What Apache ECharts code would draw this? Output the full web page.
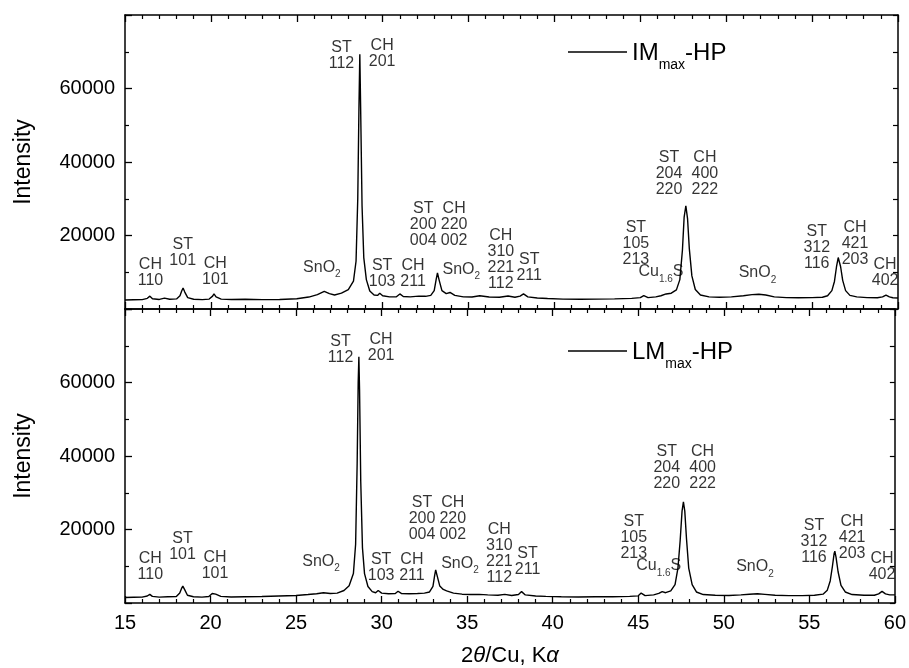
<!DOCTYPE html>
<html>
<head>
<meta charset="utf-8">
<script src="https://cdn.jsdelivr.net/npm/echarts@6/dist/echarts.min.js"></script>
<style>
html,body{margin:0;padding:0;background:#fff;}
#chart{width:909px;height:668px;}
</style>
</head>
<body>
<div id="chart"></div>
<script>
// ---------- data ----------
const seriesNames = ['IMmax-HP', 'LMmax-HP'];

// [2theta, intensity] (IMmax-HP)
const patternIM = [
  [15.0,2450],[15.5,2500],[16.0,2550],[16.3,2900],[16.45,3500],[16.6,2800],[17.0,2600],[17.3,2950],[17.6,2650],
  [18.0,2750],[18.2,3600],[18.3,4900],[18.38,5700],[18.48,4600],[18.65,3100],[19.0,2650],[19.5,2550],[19.9,2700],
  [20.1,3500],[20.18,4100],[20.3,3300],[20.6,2700],[21.2,2600],[22.0,2650],[23.0,2550],[24.0,2600],[25.0,2800],
  [25.7,3250],[26.2,3900],[26.6,4800],[26.9,4200],[27.2,3800],[27.6,4300],[28.0,5300],[28.3,7600],[28.45,13000],
  [28.55,30000],[28.62,55000],[28.67,69300],[28.72,54000],[28.8,28000],[28.9,14000],[29.05,8000],[29.25,4900],
  [29.5,3800],[29.7,3700],[29.83,4300],[30.0,3600],[30.4,3300],[30.8,3350],[31.0,4100],[31.2,3400],[31.6,3300],
  [32.1,3500],[32.5,3450],[32.8,3700],[33.0,5000],[33.12,8200],[33.19,9800],[33.28,8000],[33.45,5000],[33.7,4200],
  [33.92,4500],[34.2,3700],[34.7,3300],[35.2,3250],[35.65,3600],[36.2,3250],[36.8,3200],[37.3,3550],[37.7,3200],
  [38.0,3500],[38.2,4100],[38.45,3300],[39.0,3000],[39.6,2850],[40.5,2700],[41.5,2650],[42.5,2700],[43.5,2750],
  [44.5,2900],[45.0,3100],[45.2,3650],[45.45,3100],[45.9,3300],[46.2,3600],[46.5,4100],[46.8,4300],[47.1,5200],
  [47.3,8000],[47.45,16000],[47.55,25000],[47.65,28100],[47.75,24500],[47.85,16500],[48.0,9000],[48.2,5300],
  [48.5,3800],[49.0,3300],[49.6,3200],[50.3,3300],[51.0,3600],[51.5,3900],[51.9,4000],[52.3,3800],[52.8,3300],
  [53.5,3100],[54.2,3050],[55.0,3100],[55.6,3200],[55.9,3600],[56.15,5000],[56.3,7500],[56.42,11500],[56.52,14000],
  [56.58,13600],[56.66,11500],[56.78,7800],[56.95,5000],[57.2,3700],[57.6,3300],[58.2,3100],[58.8,3050],[59.1,3300],
  [59.3,3800],[59.5,3300],[59.7,3050],[60.0,3000]
];

// [2theta, intensity] (LMmax-HP)
const patternLM = [
  [15.0,1500],[15.5,1550],[16.0,1600],[16.3,1900],[16.45,2350],[16.6,1800],[17.0,1600],[17.5,1700],[18.0,1750],
  [18.2,2700],[18.3,3900],[18.38,4600],[18.48,3700],[18.65,2100],[19.0,1700],[19.5,1600],[19.9,1750],[20.1,2600],
  [20.18,3100],[20.3,2400],[20.6,1800],[21.2,1650],[22.0,1700],[23.0,1750],[24.0,1900],[25.0,2050],[25.7,2300],
  [26.2,2500],[26.6,2800],[27.0,2600],[27.4,2700],[27.8,3400],[28.1,4700],[28.35,8000],[28.48,16000],[28.57,38000],
  [28.63,60000],[28.67,67000],[28.71,58000],[28.78,33000],[28.88,15000],[29.0,8000],[29.2,4500],[29.45,3100],
  [29.65,2800],[29.8,3400],[30.0,2700],[30.4,2500],[30.8,2600],[30.96,3200],[31.15,2600],[31.6,2500],[32.1,2600],
  [32.5,2700],[32.8,3000],[33.0,4500],[33.1,7500],[33.16,9000],[33.24,7500],[33.4,4600],[33.6,3700],[33.8,3300],
  [34.2,2700],[34.7,2400],[35.2,2300],[35.7,2350],[36.2,2200],[36.8,2100],[37.2,2350],[37.6,2050],[38.0,2300],
  [38.18,3100],[38.4,2200],[39.0,1900],[39.6,1800],[40.5,1700],[41.5,1650],[42.5,1700],[43.5,1700],[44.5,1800],
  [45.0,1950],[45.17,2700],[45.4,2000],[45.9,2200],[46.2,2600],[46.4,3100],[46.6,2800],[46.9,3300],[47.15,5000],
  [47.32,9500],[47.45,17000],[47.56,25000],[47.64,27500],[47.72,25000],[47.82,17500],[47.95,9500],[48.15,5000],
  [48.4,3000],[48.8,2300],[49.5,2100],[50.3,2050],[51.0,2200],[51.5,2400],[51.97,2500],[52.4,2350],[53.0,2100],
  [53.8,2000],[54.6,2000],[55.3,2100],[55.8,2400],[56.05,3500],[56.22,6000],[56.35,10000],[56.45,13500],
  [56.49,14100],[56.56,12500],[56.68,8500],[56.85,4800],[57.1,3000],[57.5,2300],[58.2,2100],[58.8,2100],
  [59.05,2500],[59.25,3150],[59.45,2500],[59.7,2200],[60.0,2200]
];

// peak annotations: [2theta, intensity, text]
const peakLabels = [
  [16.48, 9800, 'CH\n110'],
  [18.36, 15400, 'ST\n101'],
  [20.26, 10200, 'CH\n101'],
  [26.46, 10300, '{n|SnO}{s|2}'],
  [27.60, 69000, 'ST\n112'],
  [29.97, 69400, 'CH\n201'],
  [29.97, 9500, 'ST\n103'],
  [31.77, 9500, 'CH\n211'],
  [32.36, 23000, 'ST\n200\n004'],
  [34.16, 23000, 'CH\n220\n002'],
  [34.58, 9600, '{n|SnO}{s|2}'],
  [36.88, 13400, 'CH\n310\n221\n112'],
  [38.53, 11200, 'ST\n211'],
  [44.74, 17800, 'ST\n105\n213'],
  [46.20, 9000, '{n|Cu}{s|1.6}{n|S}'],
  [46.67, 36900, 'ST\n204\n220'],
  [48.76, 36900, 'CH\n400\n222'],
  [51.82, 8700, '{n|SnO}{s|2}'],
  [55.27, 16700, 'ST\n312\n116'],
  [57.50, 17800, 'CH\n421\n203'],
  [59.25, 10000, 'CH\n402']
];

const xTicks = {min: 15, max: 60, interval: 5};
const yTicks = {min: 0, max: 80000, interval: 20000};

// ---------- chart ----------
const FONT = "'Liberation Sans', Arial, Helvetica, sans-serif";
const chart = echarts.init(document.getElementById('chart'), null, {renderer: 'canvas'});

const axisLine = {show: true, onZero: false, lineStyle: {color: '#000', width: 1.5}};

function xAxisDef(grid, pos, showLabels) {
  return {
    type: 'value', gridIndex: grid, position: pos,
    min: xTicks.min, max: xTicks.max, interval: xTicks.interval,
    axisLine: axisLine,
    axisTick: {show: true, inside: true, length: 7, lineStyle: {color: '#000', width: 1.3}},
    minorTick: {show: true, splitNumber: 5, length: 4, lineStyle: {color: '#000', width: 1.2}},
    splitLine: {show: false},
    axisLabel: {show: showLabels, color: '#000', fontSize: 20, fontFamily: FONT, margin: 10},
    name: showLabels ? '{n|2}{i|θ}{n|/Cu, K}{i|α}' : '',
    nameLocation: 'middle', nameGap: 42,
    nameTextStyle: {
      color: '#000', fontSize: 22, fontFamily: FONT,
      rich: {
        n: {fontSize: 22, fontFamily: FONT, color: '#000'},
        i: {fontSize: 22, fontFamily: FONT, fontStyle: 'italic', color: '#000'}
      }
    }
  };
}
function yLeftDef(grid) {
  return {
    type: 'value', gridIndex: grid, position: 'left',
    min: yTicks.min, max: yTicks.max, interval: yTicks.interval,
    axisLine: axisLine,
    axisTick: {show: true, inside: true, length: 7, lineStyle: {color: '#000', width: 1.3}},
    minorTick: {show: true, splitNumber: 2, length: 4, lineStyle: {color: '#000', width: 1.2}},
    splitLine: {show: false},
    axisLabel: {show: true, color: '#000', fontSize: 20, fontFamily: FONT, margin: 10,
      showMinLabel: false, showMaxLabel: false, formatter: v => String(v)},
    name: 'Intensity', nameLocation: 'middle', nameGap: 90,
    nameTextStyle: {color: '#000', fontSize: 23, fontFamily: FONT}
  };
}
function yRightDef(grid) {
  return {
    type: 'value', gridIndex: grid, position: 'right',
    min: yTicks.min, max: yTicks.max, interval: yTicks.interval / 2,
    axisLine: axisLine,
    axisTick: {show: true, inside: true, length: 5, lineStyle: {color: '#000', width: 1.2}},
    splitLine: {show: false},
    axisLabel: {show: false}
  };
}

const labelRich = {
  n: {fontSize: 16, fontFamily: FONT, color: '#000', verticalAlign: 'bottom', lineHeight: 16, padding: [0, 0, 4, 0]},
  s: {fontSize: 10, fontFamily: FONT, color: '#000', verticalAlign: 'bottom', lineHeight: 10}
};

function labelSeries(xi, yi) {
  return {
    type: 'scatter', xAxisIndex: xi, yAxisIndex: yi,
    symbolSize: 0, silent: true, z: 5,
    data: peakLabels.map(p => ({value: [p[0], p[1]], name: p[2]})),
    label: {
      show: true, position: 'inside', formatter: p => p.name,
      color: '#000', fontSize: 16, lineHeight: 16, fontFamily: FONT, align: 'center',
      rich: labelRich
    }
  };
}

function legendDef(name, top, main) {
  return {
    data: [name], left: 568, top: top, padding: 0,
    icon: 'rect', itemWidth: 59, itemHeight: 1.5, itemGap: 0,
    itemStyle: {color: '#000'},
    selectedMode: false,
    formatter: () => '{a|' + main + '}{b|max}{a|-HP}',
    textStyle: {
      color: '#000', fontFamily: FONT, fontSize: 24, padding: [2, 0, 0, 0],
      rich: {
        a: {fontSize: 24, fontFamily: FONT, color: '#000', verticalAlign: 'top', lineHeight: 24},
        b: {fontSize: 14, fontFamily: FONT, color: '#000', verticalAlign: 'top', lineHeight: 14, padding: [17, 0, 0, 0]}
      }
    }
  };
}

const option = {
  animation: false,
  backgroundColor: '#fff',
  grid: [
    {left: 125, right: 11, top: 15, height: 294},
    {left: 125, right: 11, top: 309, height: 295}
  ],
  legend: [legendDef(seriesNames[0], 41, 'IM'), legendDef(seriesNames[1], 340, 'LM')],
  xAxis: [xAxisDef(0, 'bottom', false), xAxisDef(0, 'top', false), xAxisDef(1, 'bottom', true), xAxisDef(1, 'top', false)],
  yAxis: [yLeftDef(0), yRightDef(0), yLeftDef(1), yRightDef(1)],
  series: [
    {name: seriesNames[0], type: 'line', xAxisIndex: 0, yAxisIndex: 0, data: patternIM,
      symbol: 'none', lineStyle: {color: '#000', width: 1.4}, itemStyle: {color: '#000'}},
    {name: seriesNames[1], type: 'line', xAxisIndex: 2, yAxisIndex: 2, data: patternLM,
      symbol: 'none', lineStyle: {color: '#000', width: 1.4}, itemStyle: {color: '#000'}},
    labelSeries(0, 0),
    labelSeries(2, 2)
  ]
};
chart.setOption(option);
</script>
</body>
</html>
